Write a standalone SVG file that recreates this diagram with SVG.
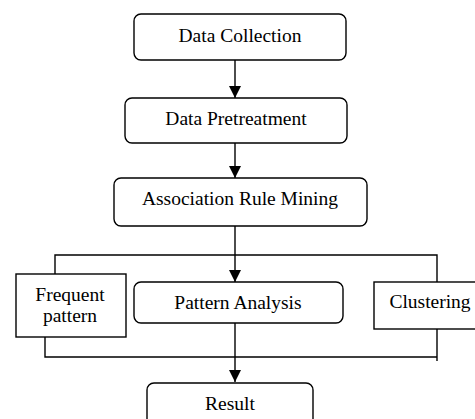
<svg xmlns="http://www.w3.org/2000/svg" width="475" height="419" viewBox="0 0 475 419">
<defs>
<marker id="ah" markerUnits="userSpaceOnUse" markerWidth="12" markerHeight="14" refX="12" refY="6" orient="auto">
<path d="M0,0 L12,6 L0,12 Z" fill="#000"/>
</marker>
<style>
.box{fill:#fff;stroke:#000;stroke-width:1.4}
.ln{fill:none;stroke:#000;stroke-width:1.4}
.t{font-family:"Liberation Serif","Times New Roman",serif;font-size:19.5px;fill:#000;text-anchor:middle}
</style>
</defs>
<rect width="475" height="419" fill="#fff"/>
<g id="connectors">
<line class="ln" x1="235" y1="60" x2="235" y2="98" marker-end="url(#ah)"/>
<line class="ln" x1="235" y1="143" x2="235" y2="178" marker-end="url(#ah)"/>
<line class="ln" x1="235" y1="226" x2="235" y2="282" marker-end="url(#ah)"/>
<line class="ln" x1="235" y1="323" x2="235" y2="382" marker-end="url(#ah)"/>
<polyline class="ln" points="55,274 55,255 437,255 437,282"/>
<polyline class="ln" points="45,337 45,357 437,357"/>
<line class="ln" x1="437" y1="329" x2="437" y2="361"/>
</g>
<g id="data-collection">
<rect class="box" x="134" y="14" width="212" height="46" rx="7"/>
<text class="t" x="240" y="42">Data Collection</text>
</g>
<g id="data-pretreatment">
<rect class="box" x="125" y="98" width="222" height="45" rx="7"/>
<text class="t" x="236" y="125">Data Pretreatment</text>
</g>
<g id="association-rule-mining">
<rect class="box" x="114" y="178" width="253" height="48" rx="7"/>
<text class="t" x="240" y="205">Association Rule Mining</text>
</g>
<g id="frequent-pattern">
<rect class="box" x="16" y="274" width="110" height="63"/>
<text class="t" x="70" y="301">Frequent</text>
<text class="t" x="70" y="322">pattern</text>
</g>
<g id="pattern-analysis">
<rect class="box" x="134" y="282" width="209" height="41" rx="7"/>
<text class="t" x="238" y="309">Pattern Analysis</text>
</g>
<g id="clustering">
<rect class="box" x="374" y="282" width="110" height="47"/>
<text class="t" x="430" y="308">Clustering</text>
</g>
<g id="result">
<rect class="box" x="147" y="383" width="166" height="50" rx="7"/>
<text class="t" x="230" y="410">Result</text>
</g>
</svg>
